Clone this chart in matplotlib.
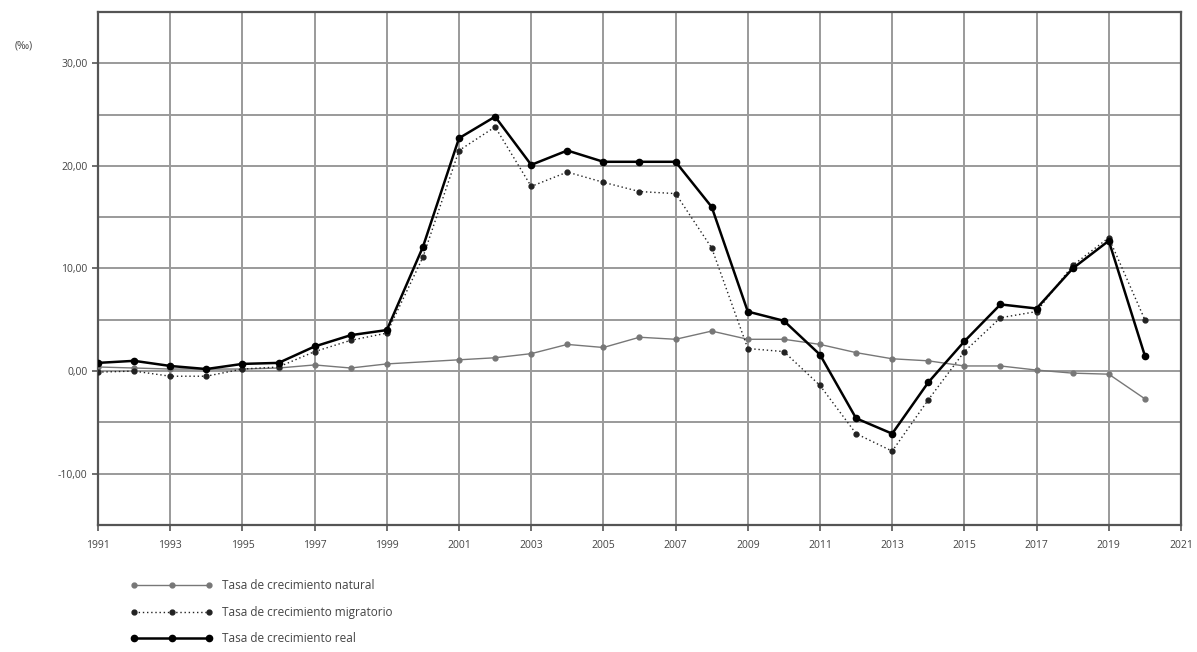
import matplotlib.pyplot as plt
from matplotlib.ticker import MultipleLocator

years = list(range(1991, 2021))
# no natural-growth value for 2000 in the source
years_nat = [y for y in years if y != 2000]

natural = [0.4, 0.3, 0.2, 0.2, 0.2, 0.3, 0.6, 0.3, 0.7,
           1.1, 1.3, 1.7, 2.6, 2.3, 3.3, 3.1, 3.9, 3.1, 3.1,
           2.6, 1.8, 1.2, 1.0, 0.5, 0.5, 0.1, -0.2, -0.3, -2.7]
migratorio = [-0.1, 0.0, -0.5, -0.5, 0.2, 0.4, 1.9, 3.0, 3.7, 11.1,
              21.5, 23.8, 18.0, 19.4, 18.4, 17.5, 17.3, 12.0, 2.2, 1.9,
              -1.4, -6.1, -7.8, -2.8, 1.9, 5.2, 5.8, 10.3, 13.0, 5.0]
real = [0.8, 1.0, 0.5, 0.2, 0.7, 0.8, 2.4, 3.5, 4.0, 12.1,
        22.7, 24.8, 20.1, 21.5, 20.4, 20.4, 20.4, 16.0, 5.8, 4.9,
        1.6, -4.6, -6.1, -1.1, 2.9, 6.5, 6.1, 10.0, 12.7, 1.5]

labels = ['Tasa de crecimiento natural', 'Tasa de crecimiento migratorio',
          'Tasa de crecimiento real']

plt.rcParams['font.family'] = ['Open Sans', 'DejaVu Sans']

fig = plt.figure(figsize=(11.97, 6.52), dpi=100)
ax = fig.add_axes([0.0819, 0.1948, 0.9047, 0.7868])

ax.plot(years_nat, natural, color='#777777', lw=1.0, marker='o', ms=3.5,
        label=labels[0], zorder=3)
ax.plot(years, migratorio, color='#222222', lw=1.0, ls=(0, (1, 2)), marker='o',
        ms=3.5, label=labels[1], zorder=4)
ax.plot(years, real, color='black', lw=1.8, marker='o', ms=4.5,
        label=labels[2], zorder=5)

ax.set_xlim(1991, 2021)
ax.set_ylim(-15, 35)
ax.set_xticks(range(1991, 2022, 2))
ax.yaxis.set_minor_locator(MultipleLocator(5))
ax.set_yticks([-10, 0, 10, 20, 30])
ax.set_yticklabels(['-10,00', '0,00', '10,00', '20,00', '30,00'])
ax.grid(True, which='both', color='#9a9a9a', lw=1.4)
ax.set_axisbelow(True)
ax.tick_params(which='minor', length=0)
ax.tick_params(which='major', length=4, width=1.2, color='#555555',
               labelsize=7.5, labelcolor='#444444')
ax.tick_params(axis='x', pad=7)
for s in ax.spines.values():
    s.set_color('#555555')
    s.set_linewidth(1.6)

fig.text(0.012, 0.925, '(‰)', fontsize=7.5, color='#444444')

ax.legend(loc='upper left', bbox_to_anchor=(0.02, -0.085), frameon=False,
          numpoints=3, handlelength=7, fontsize=8.5, labelspacing=1.15,
          labelcolor='#444444')

fig.savefig('out.png', dpi=100)
